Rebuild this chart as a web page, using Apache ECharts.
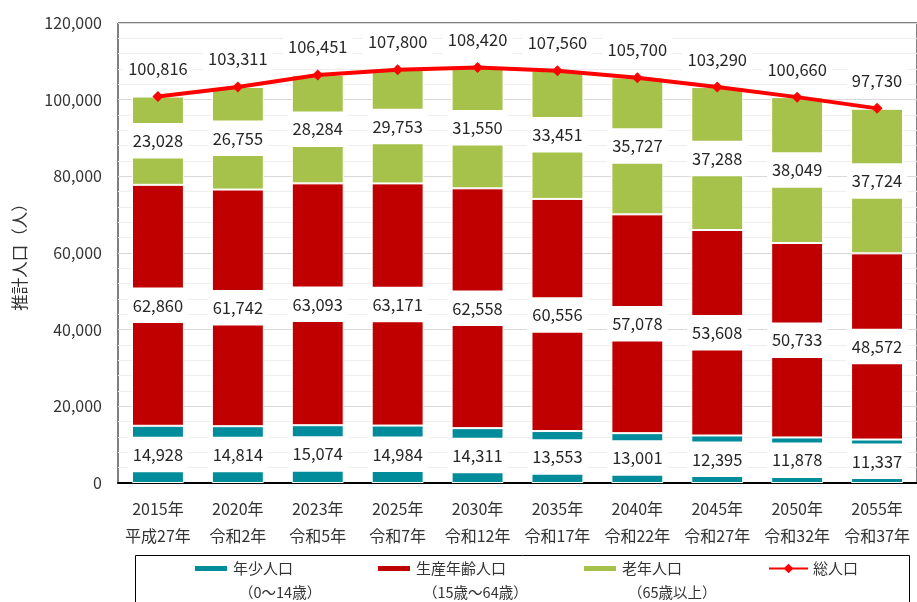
<!DOCTYPE html>
<html><head><meta charset="utf-8">
<script src="https://cdn.jsdelivr.net/npm/echarts@6/dist/echarts.min.js"></script>
<style>html,body{margin:0;padding:0;background:#fff}#c{width:917px;height:602px}</style>
</head><body><div id="c"></div>
<script>
const categories = ['2015年\n平成27年','2020年\n令和2年','2023年\n令和5年','2025年\n令和7年','2030年\n令和12年','2035年\n令和17年','2040年\n令和22年','2045年\n令和27年','2050年\n令和32年','2055年\n令和37年'];
const youth   = [14928, 14814, 15074, 14984, 14311, 13553, 13001, 12395, 11878, 11337];
const working = [62860, 61742, 63093, 63171, 62558, 60556, 57078, 53608, 50733, 48572];
const elderly = [23028, 26755, 28284, 29753, 31550, 33451, 35727, 37288, 38049, 37724];
const total   = [100816, 103311, 106451, 107800, 108420, 107560, 105700, 103290, 100660, 97730];
const seriesNames = ['年少人口', '生産年齢人口', '老年人口', '総人口'];
const seriesSubs = ['（0～14歳）', '（15歳～64歳）', '（65歳以上）', ''];
const yTicks = [0, 20000, 40000, 60000, 80000, 100000, 120000];

const FONT = '"Noto Sans CJK JP", "Noto Sans", sans-serif';
const fmt = v => String(v).replace(/\B(?=(\d{3})+(?!\d))/g, ',');
const colors = ['#008C9A', '#C00000', '#A6C24A', '#FF0000'];

const segLabel = {
  show: true, position: 'inside', color: '#262626', fontSize: 16.5, fontFamily: FONT,
  backgroundColor: '#fff', padding: [9, 5, 10, 5],
  formatter: p => fmt(p.value)
};
function barSeries(name, data, color) {
  return { name, type: 'bar', stack: 'pop', data, barWidth: '65%',
    itemStyle: { color, borderColor: '#fff', borderWidth: 1 },
    label: segLabel };
}
const legendX = [193, 376, 582, 768];
const legends = seriesNames.map((n, i) => ({
  data: [n], left: legendX[i], top: 561, padding: 0,
  itemWidth: i === 3 ? 39 : 34, itemHeight: i === 3 ? 12 : 7,
  icon: i === 3 ? undefined : 'rect',
  textStyle: { fontSize: 15, color: '#333', fontFamily: FONT },
  selectedMode: false
}));
const subX = [239, 423, 628];
const graphics = [{ type: 'rect', left: 133, top: 553, shape: { width: 774, height: 60 },
  style: { fill: 'none', stroke: '#000', lineWidth: 1 }, silent: true }];
seriesSubs.forEach((s, i) => { if (s) graphics.push({ type: 'text', left: subX[i], top: 585,
  style: { text: s, fill: '#333', font: '14.5px ' + FONT } }); });

const chart = echarts.init(document.getElementById('c'), null, { renderer: 'canvas' });
chart.setOption({
  animation: false,
  grid: { left: 118, right: -5, top: 23, bottom: 119, show: true, borderColor: '#000', borderWidth: 1 },
  legend: legends,
  graphic: graphics,
  xAxis: { type: 'category', data: categories,
    axisLine: { lineStyle: { color: '#000', width: 2 } }, axisTick: { show: false },
    axisLabel: { color: '#333', fontSize: 16, lineHeight: 27, margin: 12, fontFamily: FONT, interval: 0 } },
  yAxis: { type: 'value', min: yTicks[0], max: yTicks[yTicks.length - 1], interval: 20000,
    name: '推計人口（人）', nameLocation: 'middle', nameGap: 90, nameRotate: 90,
    nameTextStyle: { color: '#333', fontSize: 16.5, fontFamily: FONT },
    axisLine: { show: false }, axisTick: { show: false },
    axisLabel: { color: '#333', fontSize: 16, margin: 16, fontFamily: FONT, formatter: v => fmt(v) },
    splitLine: { lineStyle: { color: '#D9D9D9', width: 1 } },
    minorTick: { show: false, splitNumber: 5 },
    minorSplitLine: { show: true, lineStyle: { color: '#EEEEEE', width: 1 } } },
  series: [
    barSeries(seriesNames[0], youth, colors[0]),
    barSeries(seriesNames[1], working, colors[1]),
    barSeries(seriesNames[2], elderly, colors[2]),
    { name: seriesNames[3], type: 'line', data: total, z: 5,
      lineStyle: { color: colors[3], width: 4 }, itemStyle: { color: colors[3] },
      symbol: 'diamond', symbolSize: 11,
      label: { show: true, position: 'top', distance: 8, color: '#262626', fontSize: 16.5, fontFamily: FONT,
        backgroundColor: '#fff', padding: [6, 5, 6, 5], formatter: p => fmt(p.value) } }
  ]
});
</script></body></html>
